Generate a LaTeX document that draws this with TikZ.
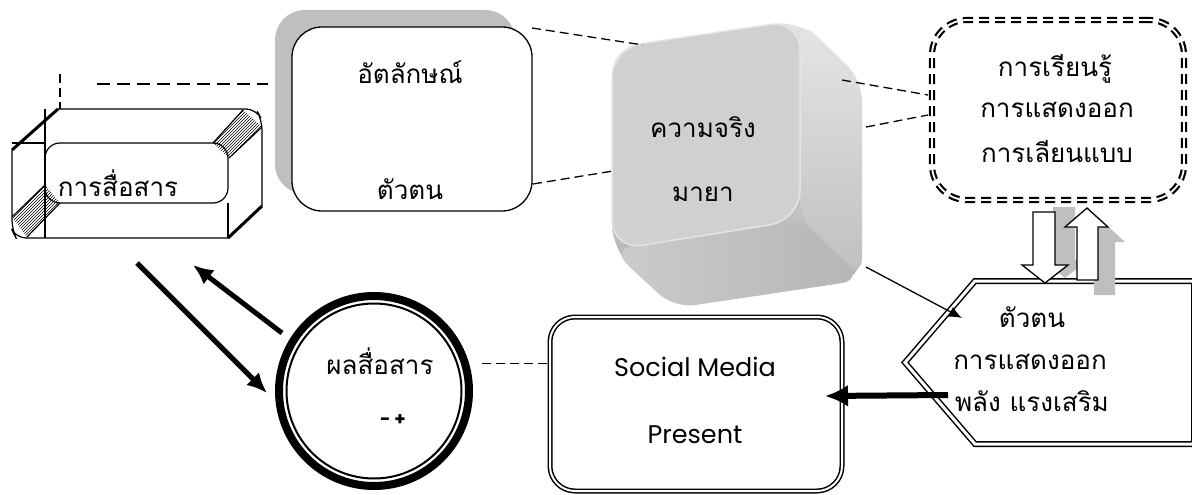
\documentclass[tikz,border=0pt]{standalone}
\usepackage{fontspec}
\newfontfamily\thaifont[Script=Thai]{Loma}
\newfontfamily\latfont{Poppins}
\usetikzlibrary{arrows.meta,patterns,shapes.geometric}
\definecolor{shadowgray}{RGB}{191,191,191}
\definecolor{frontgray}{RGB}{208,208,208}
\tikzset{
  th/.style={font=\thaifont\fontsize{26}{30}\selectfont, inner sep=0pt},
  lat/.style={font=\latfont\fontsize{25.5}{30}\selectfont, inner sep=0pt},
  dashline/.style={line width=1.3pt, dash pattern=on 9pt off 5pt},
  thickarrow/.style={line width=5pt, -{Latex[length=20pt,width=18pt]}},
  blockarrow/.style={draw=black, line width=1.3pt, fill=white},
  blockshadow/.style={fill=shadowgray},
}
\begin{document}
\begin{tikzpicture}[x=1pt,y=-1pt]
\useasboundingbox (0,0) rectangle (1192,495);

% ---------- bevel box (communication) ----------
\coordinate (bevtop) at (60,109);
\fill[white] (12,150) -- (58,109) -- (248,109) -- (262,124) -- (262,206) -- (228,238) -- (25,238) -- (12,225) -- cycle;
% hatched strips
\fill[pattern=north east lines] (243,110) -- (262,127) -- (229,158) -- (213,143) -- cycle;
\fill[pattern=north east lines] (12,217) -- (27,237) -- (60,203) -- (45,185) -- cycle;
\draw[line width=1.2pt] (243,110) -- (213,143);
\draw[line width=1.2pt] (262,127) -- (229,158);
\draw[line width=1.2pt] (12,217) -- (45,185);
\draw[line width=1.2pt] (27,237) -- (60,203);
% outer outline
\draw[line width=1.2pt, rounded corners=10pt] (58,109) -- (256,109) -- (262,120) -- (262,206);
\draw[line width=1.2pt, rounded corners=10pt] (228,238) -- (16,238) -- (12,230) -- (12,150);
\draw[line width=3pt] (12,150) -- (58,109);
\draw[line width=3pt] (228,238) -- (262,206);
% inner
\draw[line width=1.2pt, rounded corners=15pt] (45,143) -- (228,143) -- (228,203) -- (45,203) -- cycle;
\draw[line width=1.2pt] (12,143) -- (45,143);
\draw[line width=1.2pt] (45,109) -- (45,238);
\draw[line width=1.2pt] (228,203) -- (228,238);
\node[th] (comm) at (118,183) {การสื่อสาร};

% ---------- identity box with shadow ----------
\fill[shadowgray, rounded corners=30pt] (275,10) rectangle (515,194);
\node[draw, line width=1.3pt, fill=white, rounded corners=30pt, minimum width=240pt, minimum height=184pt] (ident) at (412,119) {};
\node[th] (identa) at (410,72) {อัตลักษณ์};
\node[th] (identb) at (410,189) {ตัวตน};

% dashed links around identity box
\coordinate (dh1) at (97,84);
\coordinate (dh2) at (268,84);
\draw[dashline, dash pattern=on 13pt off 7pt] (dh1) -- (dh2);
\coordinate (dv1) at (60,74);
\draw[dashline] (dv1) -- (bevtop);

% ---------- cube ----------
\shade[top color=gray!22, bottom color=gray!62, rounded corners=26pt]
  (612,48) -- (800,20) -- (862,80) -- (862,280) -- (674,308) -- (612,250) -- cycle;
\shade[left color=gray!40, right color=gray!58, rounded corners=20pt]
  (612,250) -- (800,218) -- (862,280) -- (674,308) -- cycle;
\shade[top color=gray!20, bottom color=gray!50, rounded corners=20pt]
  (800,20) -- (862,80) -- (862,278) -- (800,218) -- cycle;
\filldraw[fill=frontgray, draw=white!80!gray, line width=1.5pt, rounded corners=30pt]
  (612,48) -- (800,20) -- (800,220) -- (612,250) -- cycle;
\coordinate (cube) at (706,135);
\node[th] (cubea) at (703,127) {ความจริง};
\node[th] (cubeb) at (703,194) {มายา};

\coordinate (c1) at (532,28);
\coordinate (c2) at (643,45);
\draw[dashline] (c1) -- (c2);
\coordinate (c3) at (533,184);
\coordinate (c4) at (613,171);
\draw[dashline] (c3) -- (c4);
\coordinate (c5) at (842,80);
\coordinate (c6) at (928,95);
\draw[dashline] (c5) -- (c6);
\coordinate (c7) at (866,127);
\coordinate (c8) at (928,115);
\draw[dashline] (c7) -- (c8);

% ---------- learning box ----------
\node[draw, fill=white, line width=2.2pt, double, double distance=1.8pt, dash pattern=on 10pt off 6pt, rounded corners=35pt, minimum width=252pt, minimum height=180pt] (learn) at (1058,110) {};
\node[th] (learna) at (1055,69) {การเรียนรู้};
\node[th] (learnb) at (1057,110) {การแสดงออก};
\node[th] (learnc) at (1057,152) {การเลียนแบบ};

% ---------- pentagon (self / expression) ----------
\draw[line width=1.5pt, double, double distance=3pt] (975,281) -- (1194,281) -- (1194,444) -- (975,444) -- (905,362.5) -- cycle;
\coordinate (hexin) at (962,318);
\coordinate (hexout) at (948,395);
\node[th] (hexa) at (1032,317) {ตัวตน};
\node[th] (hexb) at (1030,362) {การแสดงออก};
\node[th] (hexc) at (1032,401) {พลัง แรงเสริม};

% block arrows with shadows
\fill[blockshadow] (1053,207) -- (1075,207) -- (1075,260) -- (1088,260) -- (1065,278) -- (1042,260) -- (1053,260) -- cycle;
\fill[blockshadow] (1094,295) -- (1115,295) -- (1115,242) -- (1125,242) -- (1104,223) -- (1082,242) -- (1094,242) -- cycle;
\draw[blockarrow] (1033,212) -- (1055,212) -- (1055,265) -- (1068,265) -- (1045,283) -- (1022,265) -- (1033,265) -- cycle;
\draw[blockarrow] (1077,280) -- (1098,280) -- (1098,227) -- (1108,227) -- (1087,208) -- (1065,227) -- (1077,227) -- cycle;

% cube to pentagon
\coordinate (cubeout) at (866,267);
\draw[line width=1.3pt, -{Latex[length=13pt,width=11pt]}] (cubeout) -- (hexin);

% ---------- social media box ----------
\node[draw, fill=white, line width=1.5pt, double, double distance=2pt, rounded corners=25pt, minimum width=292pt, minimum height=174pt] (social) at (696,404) {};
\node[lat] (sociala) at (695,367) {Social Media};
\node[lat] (socialb) at (695,435) {Present};
\coordinate (socialin) at (825,396);
\draw[line width=6pt, -{Latex[length=23pt,width=22pt]}] (hexout) -- (socialin);

% ---------- result circle ----------
\node[circle, draw, line width=8pt, minimum size=190pt, inner sep=0pt] (res) at (374,391) {};
\draw[line width=2pt] (res.center) circle[radius=87.5];
\node[th] (resa) at (380,361) {ผลสื่อสาร};
\node[font=\latfont\bfseries\fontsize{18}{22}\selectfont, inner sep=0pt] (resb) at (393,420) {- +};
\coordinate (resout) at (482,363);
\coordinate (socialleft) at (548,363);
\draw[dashline, line width=1pt] (resout) -- (socialleft);

% arrows between communication and result
\coordinate (a1s) at (137,263);
\coordinate (a1e) at (267,393);
\coordinate (a2s) at (282,333);
\coordinate (a2e) at (193,265);
\draw[thickarrow] (a1s) -- (a1e);
\draw[thickarrow] (a2s) -- (a2e);
\end{tikzpicture}
\end{document}
